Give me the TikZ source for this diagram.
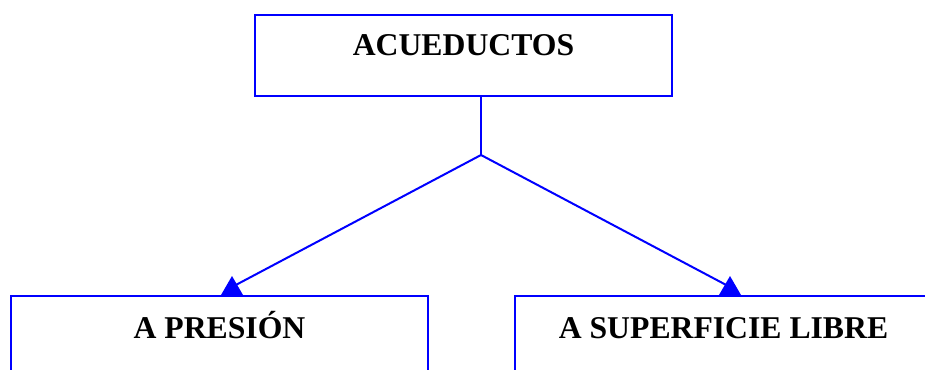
\documentclass[tikz,border=0pt]{standalone}
\usepackage{fontspec}
\setmainfont{Liberation Serif}
\usetikzlibrary{calc}
\tikzset{
  caja/.style={draw=blue, line width=2pt, inner sep=0pt, minimum width=417pt, anchor=north, font=\fontsize{31.7}{36}\selectfont\bfseries},
  rama/.style={draw=blue, line width=2pt},
}
\begin{document}
\begin{tikzpicture}[x=1pt,y=-1pt]
    \useasboundingbox (0,0) rectangle (925,369);
    \node[caja, text height=40.5pt, text depth=40pt] (acue) at (463.5,14.5) {ACUEDUCTOS};
    \node[caja, text height=42pt, text depth=80pt] (pres) at (219.5,295) {A PRESIÓN};
    \node[caja, text height=42pt, text depth=80pt] (sup) at (723.5,295) {A SUPERFICIE LIBRE};

    \coordinate (jn) at (481,155);
    \coordinate (tipP) at (232,295);
    \coordinate (tipS) at (730,295);

    \draw[rama] (jn |- acue.south) -- (jn);
    \draw[rama] (jn) -- ([yshift=8pt]tipP);
    \draw[rama] (jn) -- ([yshift=8pt]tipS);
    % puntas
    \fill[blue] (tipP) ++(-11,0) -- ++(22,0) -- ++(-11,-19) -- cycle;
    \fill[blue] (tipS) ++(-11,0) -- ++(22,0) -- ++(-11,-19) -- cycle;
\end{tikzpicture}
\end{document}
